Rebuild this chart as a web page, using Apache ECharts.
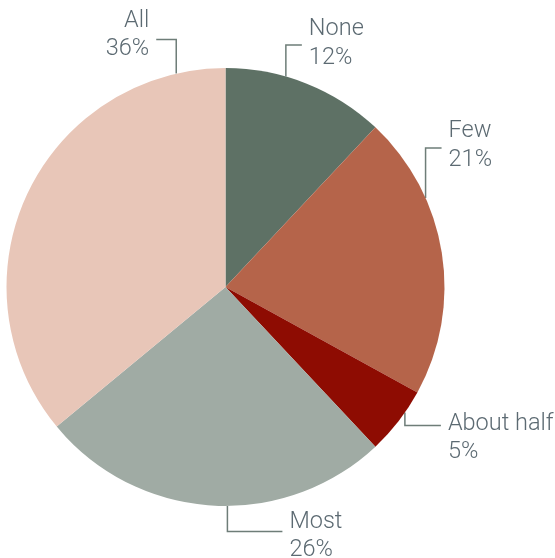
<!DOCTYPE html>
<html>
<head>
<meta charset="utf-8">
<script src="https://cdn.jsdelivr.net/npm/echarts@6/dist/echarts.min.js"></script>
<style>
  html, body { margin: 0; padding: 0; background: #ffffff; }
  #chart { width: 555px; height: 558px; }
</style>
</head>
<body>
<div id="chart"></div>
<script>
// Share of items per answer group
const categories = ['None', 'Few', 'About half', 'Most', 'All'];
const shares = [12, 21, 5, 26, 36];
const colors = ['#5e7165', '#b5644a', '#8e0c02', '#a0aba4', '#e8c6b8'];

// Pie geometry (pixels)
const CX = 225.5, CY = 287, R = 219;

// Elbow leader lines: attach angle (deg clockwise from top), vertical rise,
// horizontal arm (negative = to the left), text block offset from the elbow
const leaders = [
  { angle: 16,    rise: -31.5, arm: 16,  textDy: -30 },
  { angle: 66,    rise: -50,   arm: 16,  textDy: -31 },
  { angle: 125,   rise: 13,    arm: 36,  textDy: -16 },
  { angle: 179.5, rise: 25.5,  arm: 55,  textDy: -24 },
  { angle: 347,   rise: -34,   arm: -20, textDy: -33 }
];
const GAP = 7;

const chart = echarts.init(document.getElementById('chart'), null, { renderer: 'canvas' });

chart.setOption({
  animation: false,
  backgroundColor: '#ffffff',
  series: [{
    type: 'pie',
    center: [CX, CY],
    radius: [0, R],
    startAngle: 90,
    clockwise: true,
    avoidLabelOverlap: false,
    data: categories.map((name, i) => ({
      name: name,
      value: shares[i],
      itemStyle: { color: colors[i] }
    })),
    itemStyle: { borderWidth: 0 },
    emphasis: { disabled: true },
    label: {
      show: true,
      position: 'outside',
      formatter: '{b}\n{c}%',
      fontFamily: 'Roboto, Liberation Sans, Arial, sans-serif',
      fontWeight: 300,
      fontSize: 23.5,
      lineHeight: 28.5,
      color: '#5c6a72'
    },
    labelLine: {
      show: true,
      smooth: false,
      length: 10,
      length2: 10,
      lineStyle: { color: '#6e7d78', width: 1.5 }
    },
    labelLayout: function (params) {
      const g = leaders[params.dataIndex];
      const a = g.angle * Math.PI / 180;
      const px = CX + R * Math.sin(a);
      const py = CY - R * Math.cos(a);
      const ey = py + g.rise;
      const ex = px + g.arm;
      const left = g.arm < 0;
      return {
        x: ex + (left ? -GAP : GAP),
        y: ey + g.textDy,
        align: left ? 'right' : 'left',
        verticalAlign: 'top',
        labelLinePoints: [[px, py], [px, ey], [ex, ey]]
      };
    }
  }]
});
</script>
</body>
</html>
